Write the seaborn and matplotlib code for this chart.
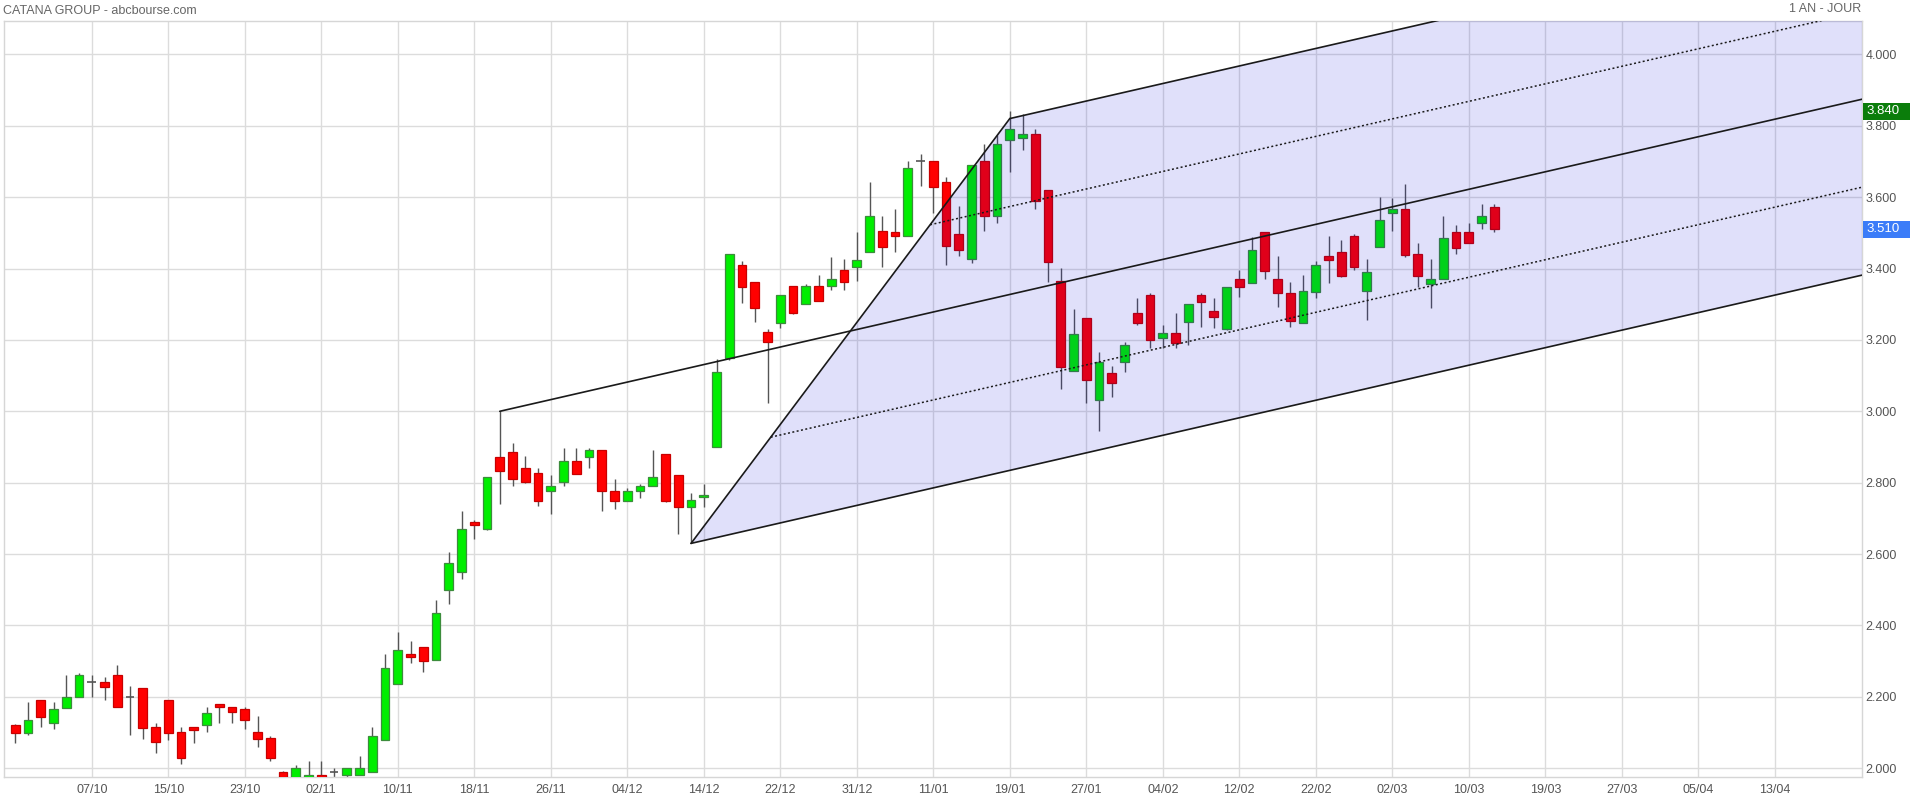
import numpy as np
import pandas as pd
import matplotlib
matplotlib.use("Agg")
import matplotlib.pyplot as plt
import seaborn as sns
from matplotlib.patches import Rectangle, Polygon

# ---------------- data ----------------
opens = [2.121, 2.100, 2.190, 2.128, 2.170, 2.199, 2.241, 2.241, 2.260, 2.199,
         2.224, 2.115, 2.190, 2.101, 2.115, 2.120, 2.179, 2.171, 2.165, 2.101,
         2.084, 1.989, 1.960, 1.960, 1.981, 1.989, 1.981, 1.981, 1.989, 2.078,
         2.235, 2.319, 2.339, 2.304, 2.499, 2.549, 2.689, 2.669, 2.871, 2.885,
         2.840, 2.826, 2.778, 2.801, 2.860, 2.871, 2.891, 2.778, 2.750, 2.778,
         2.790, 2.880, 2.821, 2.731, 2.759, 2.899, 3.150, 3.409, 3.361, 3.222,
         3.247, 3.351, 3.300, 3.351, 3.350, 3.395, 3.405, 3.445, 3.504, 3.501,
         3.490, 3.700, 3.700, 3.641, 3.496, 3.426, 3.700, 3.548, 3.759, 3.765,
         3.777, 3.620, 3.365, 3.114, 3.260, 3.031, 3.106, 3.139, 3.275, 3.325,
         3.204, 3.220, 3.249, 3.325, 3.281, 3.230, 3.370, 3.360, 3.501, 3.370,
         3.331, 3.248, 3.335, 3.434, 3.445, 3.490, 3.336, 3.459, 3.556, 3.566,
         3.440, 3.356, 3.370, 3.501, 3.501, 3.527, 3.571]
highs = [2.124, 2.186, 2.190, 2.186, 2.261, 2.266, 2.261, 2.255, 2.289, 2.230,
         2.224, 2.126, 2.190, 2.115, 2.115, 2.171, 2.179, 2.171, 2.171, 2.147,
         2.090, 1.992, 2.008, 2.020, 2.020, 2.000, 2.000, 2.035, 2.117, 2.320,
         2.381, 2.357, 2.339, 2.471, 2.605, 2.720, 2.695, 2.815, 3.002, 2.910,
         2.875, 2.840, 2.822, 2.896, 2.896, 2.896, 2.891, 2.810, 2.784, 2.796,
         2.892, 2.880, 2.821, 2.770, 2.796, 3.146, 3.440, 3.421, 3.361, 3.230,
         3.325, 3.351, 3.356, 3.381, 3.432, 3.426, 3.502, 3.642, 3.547, 3.566,
         3.700, 3.721, 3.700, 3.655, 3.575, 3.689, 3.750, 3.773, 3.840, 3.832,
         3.790, 3.620, 3.401, 3.287, 3.260, 3.165, 3.127, 3.195, 3.317, 3.331,
         3.241, 3.275, 3.300, 3.331, 3.317, 3.349, 3.395, 3.489, 3.501, 3.435,
         3.363, 3.382, 3.421, 3.491, 3.479, 3.496, 3.427, 3.601, 3.597, 3.637,
         3.471, 3.427, 3.547, 3.522, 3.527, 3.581, 3.581]
lows = [2.072, 2.092, 2.117, 2.111, 2.170, 2.199, 2.199, 2.191, 2.173, 2.092,
        2.081, 2.042, 2.079, 2.011, 2.072, 2.103, 2.128, 2.128, 2.111, 2.061,
        2.021, 1.940, 1.950, 1.950, 1.950, 1.960, 1.976, 1.980, 1.989, 2.078,
        2.235, 2.296, 2.271, 2.302, 2.461, 2.531, 2.641, 2.667, 2.740, 2.792,
        2.798, 2.736, 2.711, 2.792, 2.824, 2.842, 2.722, 2.727, 2.750, 2.758,
        2.790, 2.747, 2.657, 2.633, 2.733, 2.899, 3.145, 3.302, 3.251, 3.022,
        3.232, 3.272, 3.300, 3.310, 3.341, 3.341, 3.366, 3.445, 3.403, 3.447,
        3.490, 3.632, 3.556, 3.409, 3.435, 3.416, 3.505, 3.528, 3.671, 3.732,
        3.568, 3.363, 3.062, 3.114, 3.022, 2.946, 3.039, 3.111, 3.242, 3.176,
        3.176, 3.178, 3.186, 3.237, 3.232, 3.228, 3.319, 3.360, 3.371, 3.293,
        3.237, 3.248, 3.318, 3.358, 3.377, 3.397, 3.256, 3.459, 3.506, 3.433,
        3.349, 3.288, 3.370, 3.442, 3.471, 3.511, 3.503]
closes = [2.100, 2.134, 2.145, 2.165, 2.199, 2.260, 2.241, 2.229, 2.173, 2.199,
          2.114, 2.075, 2.100, 2.030, 2.108, 2.154, 2.173, 2.159, 2.134, 2.083,
          2.030, 1.950, 2.000, 1.981, 1.960, 1.989, 2.000, 2.000, 2.090, 2.280,
          2.331, 2.311, 2.300, 2.434, 2.574, 2.669, 2.681, 2.815, 2.834, 2.809,
          2.801, 2.750, 2.790, 2.860, 2.825, 2.891, 2.778, 2.750, 2.778, 2.790,
          2.815, 2.750, 2.731, 2.751, 2.765, 3.109, 3.440, 3.349, 3.290, 3.195,
          3.325, 3.274, 3.351, 3.310, 3.370, 3.361, 3.425, 3.546, 3.459, 3.490,
          3.681, 3.700, 3.629, 3.464, 3.451, 3.689, 3.548, 3.750, 3.790, 3.778,
          3.590, 3.419, 3.125, 3.216, 3.089, 3.139, 3.080, 3.185, 3.246, 3.200,
          3.220, 3.190, 3.300, 3.305, 3.265, 3.349, 3.349, 3.451, 3.394, 3.330,
          3.254, 3.336, 3.409, 3.425, 3.380, 3.405, 3.389, 3.535, 3.566, 3.439,
          3.380, 3.370, 3.485, 3.458, 3.471, 3.546, 3.510]

date_labels = ["07/10", "15/10", "23/10", "02/11", "10/11", "18/11", "26/11",
               "04/12", "14/12", "22/12", "31/12", "11/01", "19/01", "27/01",
               "04/02", "12/02", "22/02", "02/03", "10/03", "19/03", "27/03",
               "05/04", "13/04"]
y_ticks = [2.0, 2.2, 2.4, 2.6, 2.8, 3.0, 3.2, 3.4, 3.6, 3.8, 4.0]

# Andrews pitchfork pivots (trading-day index, price): A, B, C
pivot_idx = [38, 78, 53]
pivot_price = [3.00, 3.82, 2.63]

high_tag = 3.840
last_tag = 3.510

# ---------------- style ----------------
sns.set_theme(style="white")
plt.rcParams['font.family'] = ['Liberation Sans', 'DejaVu Sans']

df = pd.DataFrame({"o": opens, "h": highs, "l": lows, "c": closes})
df["i"] = np.arange(len(df))

W, H = 1910, 800
fig = plt.figure(figsize=(W / 100, H / 100), dpi=100)
fig.patch.set_facecolor("white")
ax = fig.add_axes([4.3 / W, 1 - 777 / H, (1862 - 4.3) / W, (777 - 21) / H])
ax.set_facecolor("white")

ax.set_xlim(-0.863, 144.84)
ax.set_ylim(1.9756, 4.0933)

# grid
xt = [6 + 6 * k for k in range(len(date_labels))]
ax.set_xticks(xt)
ax.set_xticklabels(date_labels)
ax.set_yticks(y_ticks)
ax.set_yticklabels([f"{v:.3f}" for v in y_ticks])
ax.grid(True, color="#dcdcdc", lw=1.0)
ax.set_axisbelow(True)
ax.yaxis.tick_right()
ax.tick_params(axis="y", length=0, pad=2.5, labelsize=9, labelcolor="#555555")
ax.tick_params(axis="x", length=0, pad=5, labelsize=9, labelcolor="#555555")
for sp in ax.spines.values():
    sp.set_color("#d6d6d6")
    sp.set_linewidth(1.0)

# candles
up = df[df.c > df.o]
dn = df[df.c < df.o]
dj = df[df.c == df.o]
ax.vlines(df.i, df.l, df.h, color="#555555", lw=1.0, zorder=2)
bw = 0.68
ax.bar(up.i, up.c - up.o, bottom=up.o, width=bw, color="#00ee00",
       edgecolor="#3c8c3c", linewidth=0.9, zorder=3)
ax.bar(dn.i, dn.o - dn.c, bottom=dn.c, width=bw, color="#ff0000",
       edgecolor="#c80000", linewidth=0.9, zorder=3)
ax.hlines(dj.o, dj.i - bw / 2, dj.i + bw / 2, color="#555555", lw=1.2, zorder=3)

# pitchfork
(ia, ib, ic) = pivot_idx
(pa, pb, pc) = pivot_price
mid_i, mid_p = (ib + ic) / 2, (pb + pc) / 2
slope = (mid_p - pa) / (mid_i - ia)
xe = 300
poly = Polygon([(ib, pb), (xe, pb + slope * (xe - ib)),
                (xe, pc + slope * (xe - ic)), (ic, pc)],
               closed=True, facecolor=(0, 0, 0.84), alpha=0.12,
               edgecolor="none", zorder=4)
ax.add_patch(poly)
lk = dict(color="#1a1a1a", lw=1.2, zorder=5, solid_capstyle="round")
ax.plot([ib, ic], [pb, pc], **lk)
ax.plot([ia, xe], [pa, pa + slope * (xe - ia)], **lk)
ax.plot([ib, xe], [pb, pb + slope * (xe - ib)], **lk)
ax.plot([ic, xe], [pc, pc + slope * (xe - ic)], **lk)
for f in (0.25, 0.75):
    qi = ib + f * (ic - ib)
    qp = pb + f * (pc - pb)
    ax.plot([qi, xe], [qp, qp + slope * (xe - qi)], color="#1a1a1a", lw=1.1,
            ls=(0, (1.3, 1.6)), zorder=5)

# price tags on the right axis
tr = ax.get_yaxis_transform()
tag_w = (1910 - 1862) / (1862 - 4.3)
tag_h = 16.6 / (756 / (4.0933 - 1.9756))
for val, col in ((high_tag, "#0b7d0b"), (last_tag, "#3b7cf8")):
    ax.add_patch(Rectangle((1.0005, val - tag_h / 2), tag_w, tag_h, transform=tr,
                           facecolor=col, edgecolor="none", clip_on=False, zorder=10))
    ax.text(1.0022, val, f"{val:.3f}", transform=tr, color="white", fontsize=9.5,
            va="center", ha="left", clip_on=False, zorder=11)

# header texts
fig.text(3 / W, 1 - 11 / H, "CATANA GROUP - abcbourse.com", color="#666666",
         fontsize=9, va="center", ha="left")
fig.text(1861 / W, 1 - 9 / H, "1 AN - JOUR", color="#666666",
         fontsize=9, va="center", ha="right")

fig.savefig("out.png", dpi=100, facecolor="white")
